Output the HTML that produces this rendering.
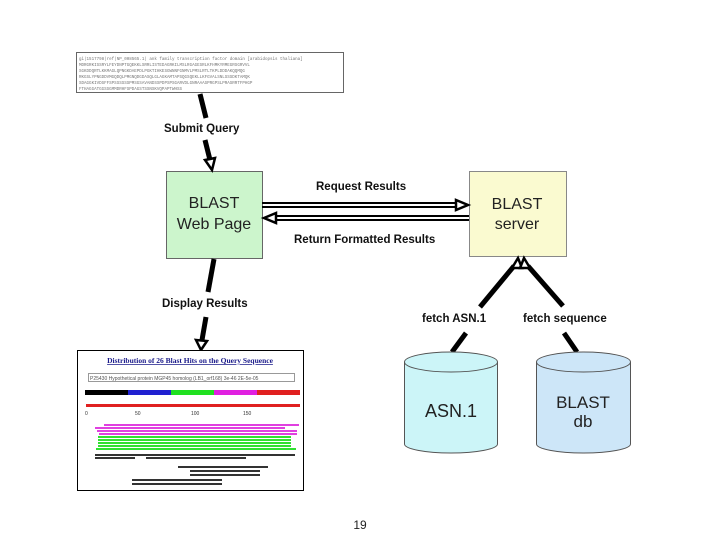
<!DOCTYPE html>
<html><head><style>
body{margin:0;width:720px;height:540px;background:#fff;overflow:hidden;font-family:"Liberation Sans",sans-serif}
.t{position:absolute;font-weight:bold;font-size:11.5px;color:#111;white-space:nowrap}
</style></head><body>
<svg width="720" height="540" style="position:absolute;left:0;top:0" font-family="Liberation Sans, sans-serif">
<!-- query box -->
<rect x="76.5" y="52.5" width="267" height="40" fill="#fff" stroke="#666"/>
<g font-size="4.2" fill="#777" font-family="Liberation Mono, monospace">
<text x="79" y="60">gi|1517798|ref|NP_008565.1| ank family transcription factor domain [arabidopsis thaliana]</text>
<text x="79" y="66">MDRGRKISSRYLFEYDNPTGQEKKLSRRLISTEDAGRKILMSLRGAGESRLKFHMKYRMEGRSGRVVL</text>
<text x="79" y="72">SGKDDQRTLKKMAGLQPNGKDAEPDLPGKTIHKESGWNNFGNMVLPMSLRTLTKPLDDDAKQQMQG</text>
<text x="79" y="78">RKGSLYPNGDDVMGQDQLPMGNQDGDASQLGLAGKAMTAPSQGSQEKLLKFGVALSNLSSSDKTAMQK</text>
<text x="79" y="84">SDAGGKIVDSFFSPSSSSSSPMSGSAVANDSSPDPSPSGARVDLGNRAAASPRGPSLPRASRRTFPHGP</text>
<text x="79" y="90">FTHAGGATGGSSGMMDRHFSPDAGSTSSNSKVQPAPTWHSS</text>
</g>
<!-- green & yellow boxes -->
<rect x="166.5" y="171.5" width="96" height="87" fill="#ccf5cc" stroke="#666"/>
<rect x="469.5" y="171.5" width="97" height="85" fill="#fafad0" stroke="#888"/>
<!-- submit arrow -->
<line x1="200" y1="94" x2="206" y2="118" stroke="#000" stroke-width="5"/>
<line x1="205" y1="140" x2="210" y2="160" stroke="#000" stroke-width="5"/>
<polygon points="205,160 215,158 212,170" fill="#fff" stroke="#000" stroke-width="2.5"/>
<!-- display arrow -->
<line x1="214" y1="259" x2="208" y2="292" stroke="#000" stroke-width="5"/>
<line x1="206" y1="317" x2="202" y2="340" stroke="#000" stroke-width="5"/>
<polygon points="196,340 207,341 201,350" fill="#fff" stroke="#000" stroke-width="2.5"/>
<!-- request -->
<line x1="262" y1="203" x2="456" y2="203" stroke="#000" stroke-width="2"/>
<line x1="262" y1="207" x2="456" y2="207" stroke="#000" stroke-width="2"/>
<polygon points="456,200 468,205 456,210" fill="#fff" stroke="#000" stroke-width="2.5"/>
<line x1="276" y1="216" x2="469" y2="216" stroke="#000" stroke-width="2"/>
<line x1="276" y1="220" x2="469" y2="220" stroke="#000" stroke-width="2"/>
<polygon points="276,213 264,218 276,223" fill="#fff" stroke="#000" stroke-width="2.5"/>
<!-- fetch lines -->
<line x1="480" y1="307" x2="514" y2="266" stroke="#000" stroke-width="5"/>
<line x1="563" y1="306" x2="528" y2="266" stroke="#000" stroke-width="5"/>
<polygon points="512,268 518,258 522,268" fill="#fff" stroke="#000" stroke-width="2.5"/>
<polygon points="520,268 524,258 530,268" fill="#fff" stroke="#000" stroke-width="2.5"/>
<line x1="452" y1="352" x2="466" y2="333" stroke="#000" stroke-width="5"/>
<line x1="577" y1="352" x2="564" y2="333" stroke="#000" stroke-width="5"/>
<!-- cylinders -->
<g stroke="#555" stroke-width="1">
<path d="M404.5,362 V444 A46.5,9 0 0 0 497.5,444 V362" fill="#ccf5f8"/>
<ellipse cx="451" cy="362" rx="46.5" ry="10" fill="#ccf5f8"/>
<path d="M536.5,362 V444 A47,9 0 0 0 630.5,444 V362" fill="#cde6f8"/>
<ellipse cx="583.5" cy="362" rx="47" ry="10" fill="#cde6f8"/>
</g>
<!-- result image -->
<rect x="77.5" y="350.5" width="226" height="140" fill="#fff" stroke="#000"/>
<text x="190" y="363" font-size="7.5" font-family="Liberation Serif, serif" font-weight="bold" fill="#1a1a8a" text-anchor="middle" text-decoration="underline">Distribution of 26 Blast Hits on the Query Sequence</text>
<rect x="88.5" y="373.5" width="206" height="8" fill="#fff" stroke="#999"/>
<text x="90" y="380" font-size="5" fill="#555">P25430 Hypothetical protein MGP45 homolog (LB1_orf168) 3e-46 2E-5e-05</text>
<rect x="85" y="390" width="43" height="5" fill="#000"/><rect x="128" y="390" width="43" height="5" fill="#2020d0"/>
<rect x="171" y="390" width="43" height="5" fill="#20e020"/><rect x="214" y="390" width="43" height="5" fill="#e020e0"/>
<rect x="257" y="390" width="43" height="5" fill="#e02020"/>
<rect x="86" y="404" width="214" height="3" fill="#e02020"/>
<g font-size="5" fill="#333"><text x="85" y="415">0</text><text x="135" y="415">50</text><text x="191" y="415">100</text><text x="243" y="415">150</text></g>
<g fill="#e040e0"><rect x="104" y="424" width="195" height="2"/><rect x="95" y="427" width="190" height="2"/><rect x="97" y="430" width="200" height="2"/><rect x="99" y="433" width="198" height="2"/></g>
<g fill="#30e030"><rect x="98" y="436" width="193" height="2"/><rect x="98" y="439" width="193" height="2"/><rect x="98" y="442" width="193" height="2"/><rect x="98" y="445" width="193" height="2"/><rect x="96" y="448" width="200" height="2"/></g>
<g fill="#333"><rect x="95" y="454" width="200" height="2"/><rect x="95" y="457" width="40" height="2"/><rect x="146" y="457" width="100" height="2"/><rect x="178" y="466" width="90" height="2"/><rect x="190" y="470" width="70" height="2"/><rect x="190" y="474" width="70" height="2"/><rect x="132" y="479" width="90" height="2"/><rect x="132" y="483" width="90" height="2"/></g>
<text x="451" y="417" font-size="18" fill="#222" text-anchor="middle">ASN.1</text>
<text x="583" y="408" font-size="17" fill="#222" text-anchor="middle">BLAST</text>
<text x="583" y="427" font-size="17" fill="#222" text-anchor="middle">db</text>
<text x="214" y="208" font-size="16" fill="#222" text-anchor="middle">BLAST</text>
<text x="214" y="229" font-size="16" fill="#222" text-anchor="middle">Web Page</text>
<text x="517" y="209" font-size="16" fill="#222" text-anchor="middle">BLAST</text>
<text x="517" y="229" font-size="16" fill="#222" text-anchor="middle">server</text>
<text x="360" y="529" font-size="12" fill="#222" text-anchor="middle">19</text>
</svg>
<div class="t" style="left:164px;top:123px">Submit Query</div>
<div class="t" style="left:316px;top:181px">Request Results</div>
<div class="t" style="left:294px;top:234px">Return Formatted Results</div>
<div class="t" style="left:162px;top:298px">Display Results</div>
<div class="t" style="left:422px;top:313px">fetch ASN.1</div>
<div class="t" style="left:523px;top:313px">fetch sequence</div>
</body></html>
